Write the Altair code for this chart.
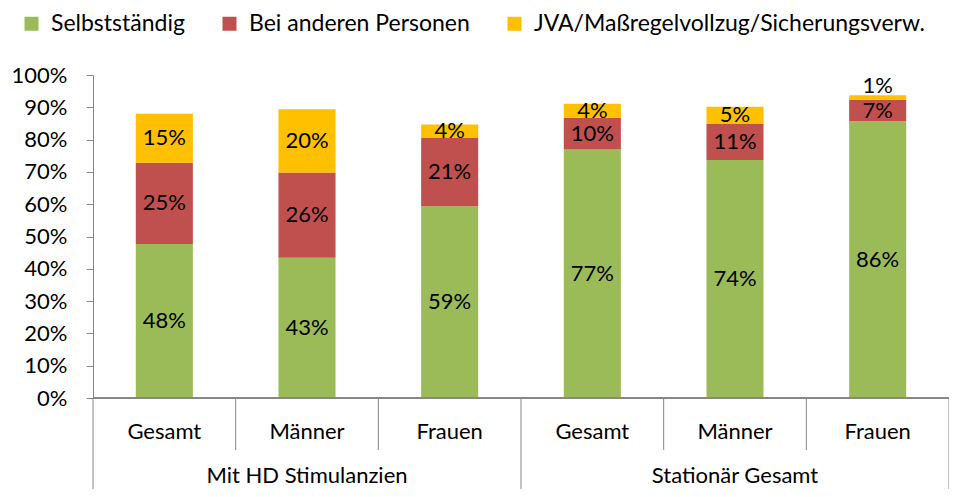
import altair as alt
import pandas as pd

groups = ["Mit HD Stimulanzien"] * 3 + ["Stationär Gesamt"] * 3
subs = ["Gesamt", "Männer", "Frauen", "Gesamt", "Männer", "Frauen"]
group_names = ["Mit HD Stimulanzien", "Stationär Gesamt"]
series = ["Selbstständig", "Bei anderen Personen", "JVA/Maßregelvollzug/Sicherungsverw."]
selbst = [0.477, 0.434, 0.594, 0.769, 0.737, 0.857]
bei = [0.251, 0.264, 0.211, 0.099, 0.111, 0.066]
jva = [0.152, 0.196, 0.042, 0.043, 0.054, 0.014]
colors = ["#9BBB59", "#C0504D", "#FFC000"]
y_ticks = [0, 0.1, 0.2, 0.3, 0.4, 0.5, 0.6, 0.7, 0.8, 0.9, 1.0]

keys = [f"{g}|{s}" for g, s in zip(groups, subs)]
rows = []
for i, k in enumerate(keys):
    for j, (name, vals) in enumerate(zip(series, [selbst, bei, jva])):
        rows.append(dict(key=k, group=groups[i], sub=subs[i], series=name, order=j, value=vals[i]))
df = pd.DataFrame(rows)
cats = pd.DataFrame(dict(key=keys, group=groups, sub=subs))

W, H = 856, 323
PAD_T, PAD_B = 67, 91
GRAY = "#868686"
FONT = "Lato"
FS = 22

band = alt.Scale(domain=keys, paddingInner=0.6, paddingOuter=0.3)
edge = alt.Scale(domain=keys, paddingInner=0, paddingOuter=0)
yscale = alt.Scale(domain=[0, 1])
yaxis = alt.Axis(
    values=y_ticks, format=".0%", title=None, grid=False,
    domainColor=GRAY, tickColor=GRAY, tickSize=7, labelPadding=19,
    labelFontSize=FS, labelFont=FONT, labelColor="black")

stacked = alt.Chart(df).transform_stack(
    stack="value", groupby=["key"], as_=["y0", "y1"],
    sort=[alt.SortField(field="order", order="ascending")]
)

bars = stacked.mark_bar().encode(
    x=alt.X("key:N", scale=band, axis=None),
    y=alt.Y("y0:Q", scale=yscale, axis=yaxis),
    y2="y1:Q",
    color=alt.Color("series:N", scale=alt.Scale(domain=series, range=colors),
                    legend=alt.Legend(
                        title=None, orient="none", legendX=-73, legendY=-63,
                        direction="horizontal", symbolType="square", symbolSize=196,
                        symbolStrokeWidth=0, symbolOpacity=1, labelFontSize=23,
                        labelFont=FONT, labelColor="black", columnPadding=33,
                        labelOffset=8, padding=0, labelLimit=0)),
)

labels = stacked.transform_calculate(
    mid="(datum.y1 - datum.y0) < 0.02 ? datum.y1 + 0.03 : (datum.y0 + datum.y1) / 2",
    label="format(datum.value, '.0%')",
).mark_text(fontSize=FS, font=FONT, color="black", baseline="middle").encode(
    x=alt.X("key:N", scale=band, axis=None),
    y=alt.Y("mid:Q", scale=yscale, axis=yaxis),
    text="label:N",
)

sublab = alt.Chart(cats).mark_text(fontSize=FS, font=FONT, color="black", baseline="middle").encode(
    x=alt.X("key:N", scale=band, axis=None),
    y=alt.value(H + 34),
    text="sub:N",
)

grouplab = alt.Chart(cats).transform_aggregate(n="count()", groupby=["group"]).mark_text(
    fontSize=FS, font=FONT, color="black", baseline="middle").encode(
    x=alt.X("group:N", scale=alt.Scale(domain=group_names, paddingInner=0, paddingOuter=0), axis=None),
    y=alt.value(H + 78),
    text="group:N",
)

short_sep = alt.Chart(cats).transform_filter("datum.sub != 'Gesamt'").mark_rule(color=GRAY).encode(
    x=alt.X("key:N", scale=edge, axis=None, bandPosition=0),
    y=alt.value(H), y2=alt.value(H + 52),
)
long_sep = alt.Chart(cats).transform_filter("datum.sub == 'Gesamt'").mark_rule(color=GRAY).encode(
    x=alt.X("key:N", scale=edge, axis=None, bandPosition=0),
    y=alt.value(H), y2=alt.value(H + PAD_B),
)
right_sep = alt.Chart(cats).transform_filter(f"datum.key == '{keys[-1]}'").mark_rule(color=GRAY).encode(
    x=alt.X("key:N", scale=edge, axis=None, bandPosition=1),
    y=alt.value(H), y2=alt.value(H + PAD_B),
)
base_line = alt.Chart(cats).mark_rule(color=GRAY).encode(
    x=alt.value(0), x2=alt.value(W), y=alt.value(H),
)

chart = alt.layer(
    bars, labels, sublab, grouplab, short_sep, long_sep, right_sep, base_line
).resolve_scale(x="independent").properties(
    width=W, height=H,
    autosize=alt.AutoSizeParams(type="none"),
    padding={"left": 85, "top": PAD_T, "right": 0, "bottom": PAD_B},
).configure(font=FONT).configure_view(stroke=None)

chart.save("out.html", embed_options={"renderer": "svg", "actions": False})
